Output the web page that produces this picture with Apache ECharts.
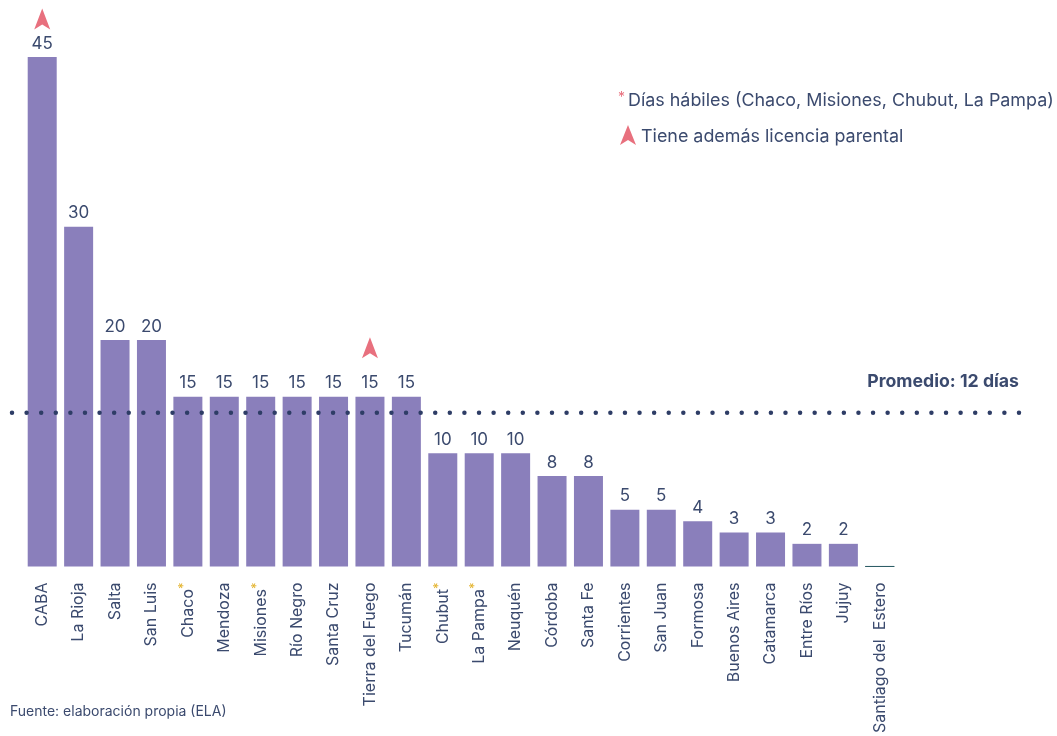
<!DOCTYPE html>
<html><head><meta charset="utf-8">
<script src="https://cdn.jsdelivr.net/npm/echarts@6/dist/echarts.min.js"></script>
<style>html,body{margin:0;padding:0;background:#fff}#c{width:1057px;height:736px}</style>
</head><body><div id="c"></div>
<script>
const categories = ['CABA','La Rioja','Salta','San Luis','Chaco','Mendoza','Misiones','Río Negro','Santa Cruz','Tierra del Fuego','Tucumán','Chubut','La Pampa','Neuquén','Córdoba','Santa Fe','Corrientes','San Juan','Formosa','Buenos Aires','Catamarca','Entre Ríos','Jujuy','Santiago del  Estero'];
const values = [45,30,20,20,15,15,15,15,15,15,15,10,10,10,8,8,5,5,4,3,3,2,2,0];
const habiles = ['Chaco','Misiones','Chubut','La Pampa'];
const parental = ['CABA','Tierra del Fuego'];
const parentalOffsets = [-38,-49];
const promedioLabel = 'Promedio: 12 días';
const promedioLinePos = 13.6;
const legendHabiles = 'Días hábiles (Chaco, Misiones, Chubut, La Pampa)';
const legendParental = 'Tiene además licencia parental';
const fuente = 'Fuente: elaboración propia (ELA)';

const TXT = '#3b4a6e', BAR = '#8a7fbb', PINK = '#e8707e', GOLD = '#e3b22a';
const FONT = 'Inter';
const arrow = 'path://M0,0 L8,21 L0,16 L-8,21 Z';

const chart = echarts.init(document.getElementById('c'));
chart.setOption({
  animation: false,
  textStyle: {fontFamily: FONT},
  grid: [
    {left: 24, right: 159, top: 57, bottom: 169},
    {left: 12, right: 38, top: 57, bottom: 169}
  ],
  xAxis: [
    {type: 'category', data: categories, gridIndex: 0,
     axisLine: {show: false}, axisTick: {show: false},
     axisLabel: {rotate: 90, interval: 0, margin: 16, color: TXT, fontSize: 16, fontFamily: FONT,
       formatter: v => habiles.includes(v) ? v + '{a|*}' : v,
       rich: {a: {color: GOLD, fontSize: 13, fontFamily: FONT, padding: [0,0,8,0]}}}},
    {type: 'value', gridIndex: 1, min: 0, max: 1, show: false}
  ],
  yAxis: [
    {type: 'value', gridIndex: 0, min: 0, max: 45, show: false},
    {type: 'value', gridIndex: 1, min: 0, max: 45, show: false}
  ],
  series: [
    {type: 'bar', xAxisIndex: 0, yAxisIndex: 0, barWidth: 29,
     data: values.map(v => v === 0
       ? {value: v, itemStyle: {color: 'transparent', borderColor: '#2f5f66', borderWidth: 1}, label: {show: false}}
       : v),
     itemStyle: {color: BAR},
     label: {show: true, position: 'top', distance: 5, color: TXT, fontSize: 17, fontFamily: FONT},
     markPoint: {
       symbol: arrow, symbolSize: [16, 21],
       itemStyle: {color: PINK}, label: {show: false},
       data: parental.map((c, i) => ({coord: [c, values[categories.indexOf(c)]], symbolOffset: [0, parentalOffsets[i]]}))
     }},
    {type: 'line', xAxisIndex: 1, yAxisIndex: 1, symbol: 'none', silent: true,
     data: [[0, promedioLinePos], [1, promedioLinePos]],
     lineStyle: {color: '#2e3d66', width: 4.5, type: [0, 14.594], cap: 'round'}}
  ],
  graphic: [
    {type: 'text', right: 38, top: 373, style: {text: promedioLabel, fill: TXT, font: 'bold 17.7px ' + FONT}},
    {type: 'text', left: 618, top: 91, style: {text: '{a|*}{b|' + legendHabiles + '}',
      rich: {a: {fill: PINK, fontSize: 14, fontFamily: FONT, padding: [0,3,6,0]},
             b: {fill: TXT, fontSize: 17.9, fontFamily: FONT}}}},
    {type: 'polygon', x: 628, y: 125, shape: {points: [[0,0],[8,20],[0,15],[-8,20]]}, style: {fill: PINK}},
    {type: 'text', left: 641, top: 128, style: {text: legendParental, fill: TXT, font: '17.9px ' + FONT}},
    {type: 'text', left: 10, top: 705, style: {text: fuente, fill: TXT, font: '14px ' + FONT}}
  ]
});
</script></body></html>
